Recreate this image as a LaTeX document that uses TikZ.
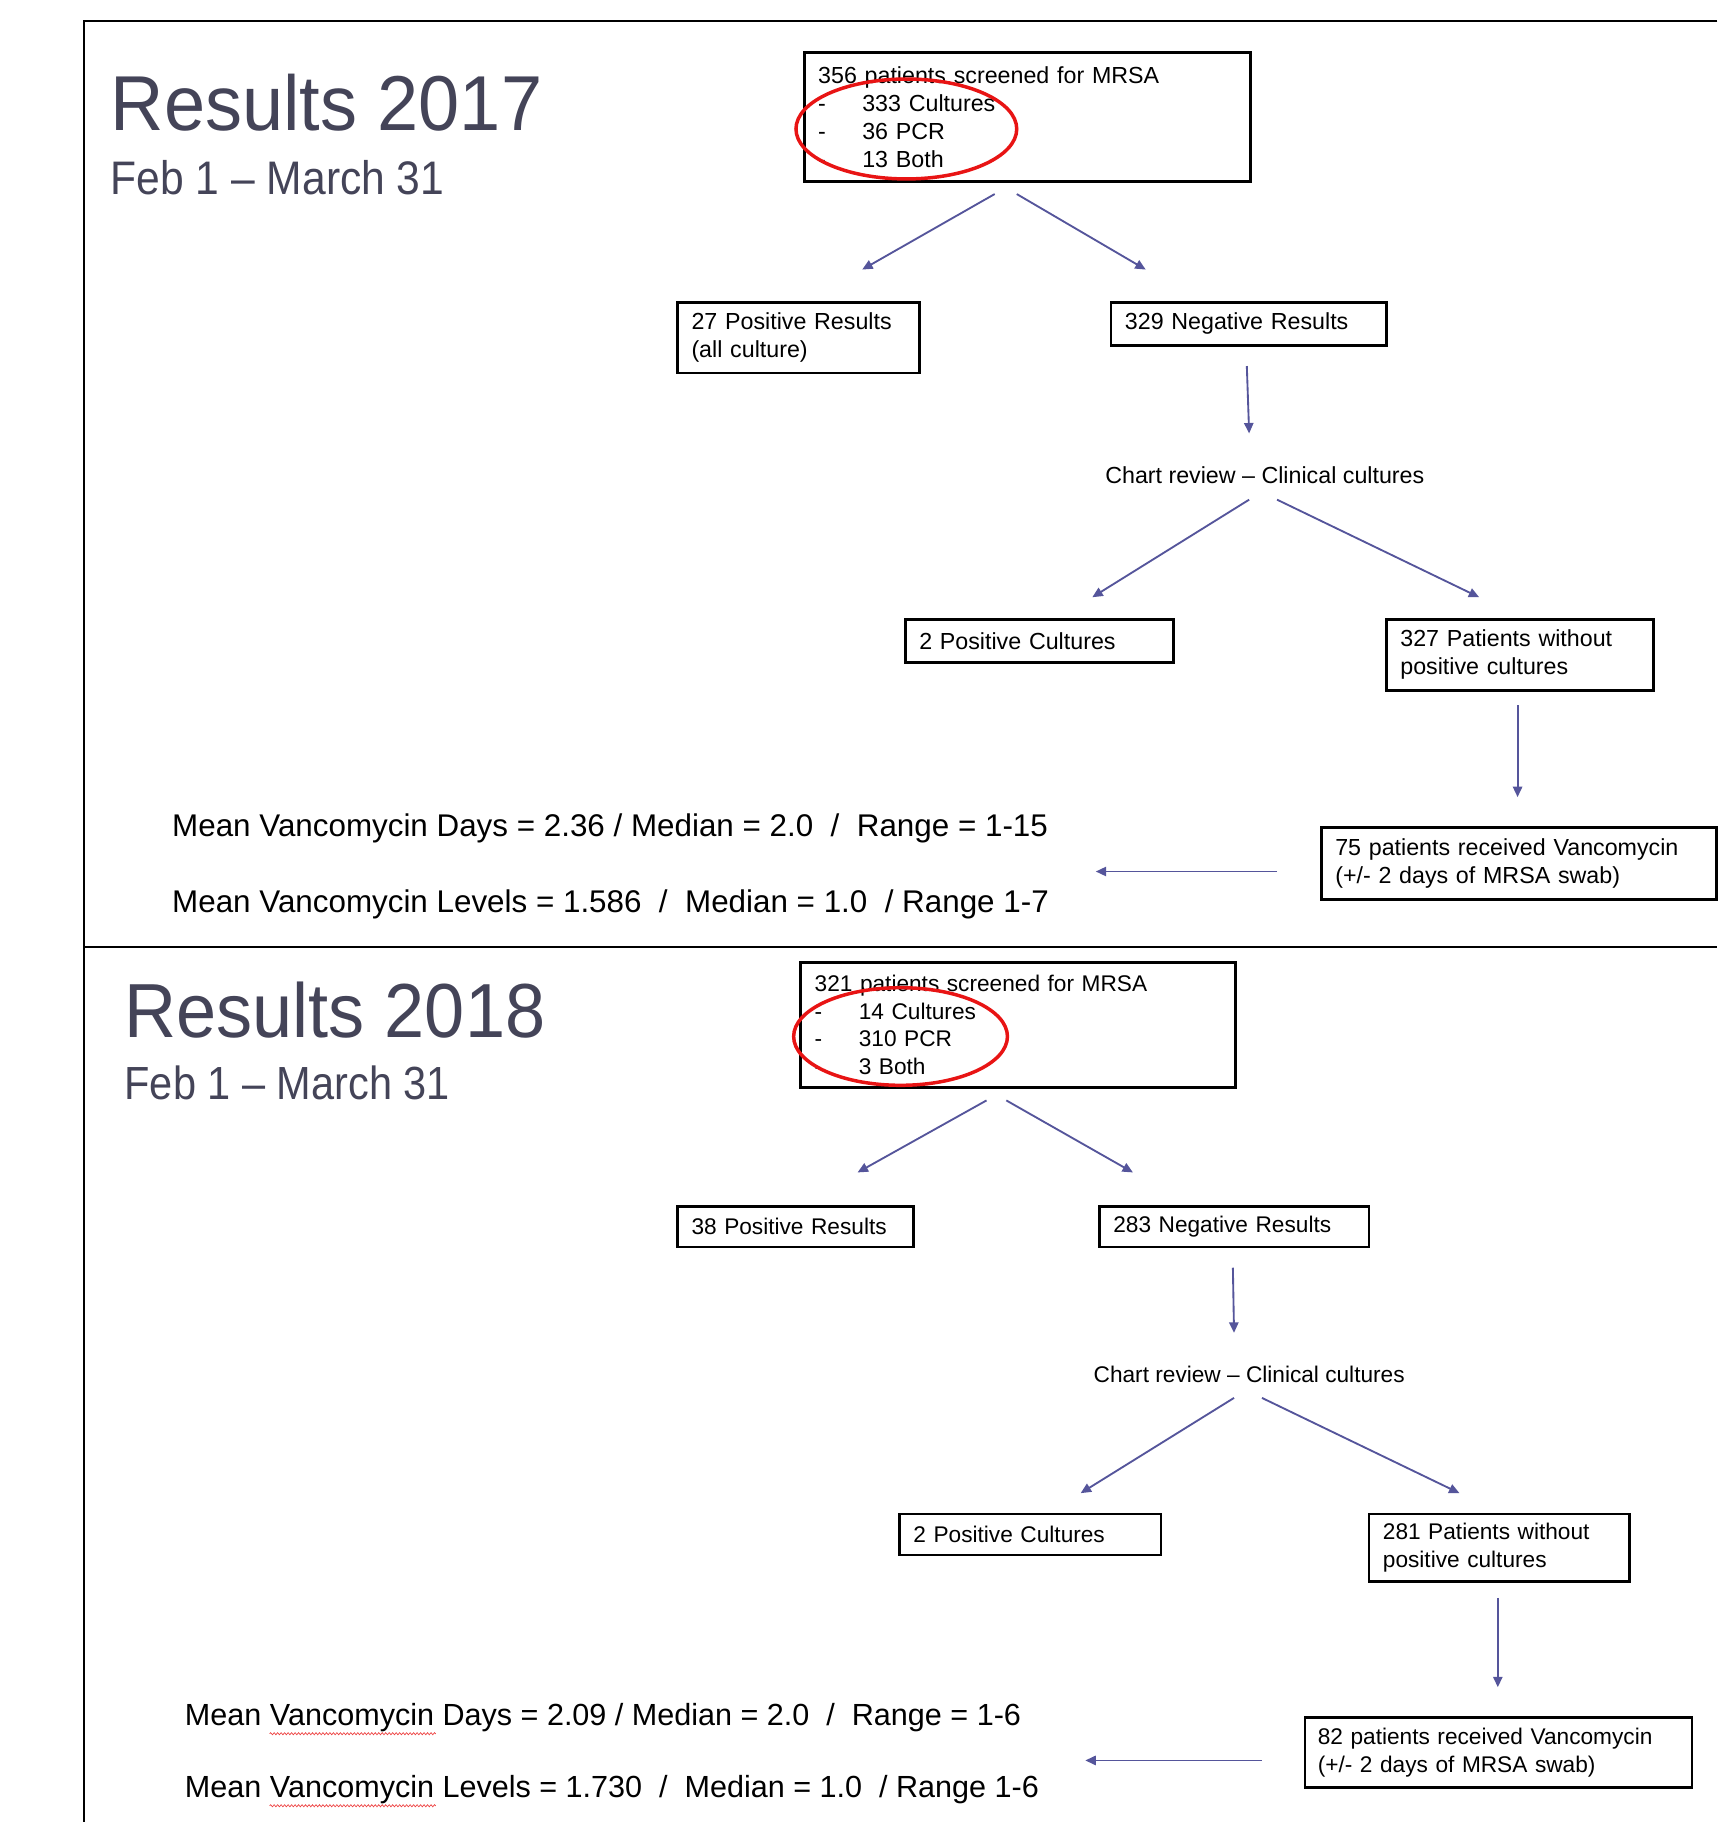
\documentclass[tikz,border=0pt]{standalone}
\usepackage{fontspec}
\setmainfont{Liberation Sans}
\usetikzlibrary{arrows.meta,decorations.pathmorphing}
\definecolor{arrowc}{RGB}{85,85,155}
\definecolor{titlec}{RGB}{68,68,88}
\definecolor{ovalred}{RGB}{232,20,20}
\newcommand{\dashitem}[1]{\makebox[38pt][l]{-}#1}
\tikzset{
  boxnode/.style={draw=black, line width=2.2pt, inner xsep=12pt, inner ysep=0pt, align=left, anchor=north west},
  flowarrow/.style={draw=arrowc, line width=1.6pt, -{Triangle[length=9pt,width=8pt]}},
  frameline/.style={line width=1.8pt, draw=black},
  oval/.style={draw=ovalred, line width=3pt},
  titletext/.style={anchor=base west, inner sep=0pt, text=titlec},
  plaintext/.style={anchor=base west, inner sep=0pt, text=black},
  squiggle/.style={draw=ovalred!80, line width=0.6pt, decorate, decoration={snake, amplitude=0.9pt, segment length=3pt}},
}
\begin{document}
\begin{tikzpicture}[x=1pt,y=-1pt]
\useasboundingbox (0,0) rectangle (1478,1568);
% frame
\draw[frameline] (1478,18) -- (72,18) -- (72,1568);
\draw[frameline] (72,815) -- (1478,815);

% ================= 2017 =================
\node[titletext] (title17) at (95,112) {\fontsize{67}{67}\selectfont\scalebox{0.95}[1]{Results 2017}};
\node[titletext] (sub17) at (95,167) {\fontsize{40.5}{40.5}\selectfont\scalebox{0.905}[1]{Feb 1 – March 31}};

\begin{scope}[every node/.append style={font=\fontsize{20}{24}\selectfont}]
\node[boxnode, minimum width=384pt, minimum height=111pt, text width=360pt] (scr17) at (691,44)
  {356 patients screened for MRSA\\\dashitem{333 Cultures}\\\dashitem{36 PCR}\\\dashitem{13 Both}};
\node[boxnode, minimum width=208pt, minimum height=61pt, text width=184pt] (pos17) at (582,259)
  {27 Positive Results\\(all culture)};
\node[boxnode, minimum width=237pt, minimum height=37pt, text width=213pt] (neg17) at (955,259)
  {329 Negative Results};
\node[plaintext] (chart17) at (951,416) {Chart review – Clinical cultures};
\node[boxnode, minimum width=231pt, minimum height=37pt, text width=207pt] (pc17) at (778,532)
  {2 Positive Cultures};
\node[boxnode, minimum width=230pt, minimum height=61pt, text width=206pt] (wo17) at (1192,532)
  {327 Patients without\\positive cultures};
\node[boxnode, minimum width=340pt, minimum height=62pt, text width=316pt] (van17) at (1136,711)
  {75 patients received Vancomycin\\(+/- 2 days of MRSA swab)};
\end{scope}
\draw[oval] (780,111) ellipse [x radius=95, y radius=43];

\node[plaintext, font=\fontsize{27}{27}\selectfont] (days17) at (148,720)
  {Mean Vancomycin Days = 2.36 / Median = 2.0\ \ /\ \ Range = 1-15};
\node[plaintext, font=\fontsize{27}{27}\selectfont] (lev17) at (148,785)
  {Mean Vancomycin Levels = 1.586\ \ /\ \ Median = 1.0\ \ / Range 1-7};

\coordinate (a1s) at (856,167); \coordinate (a1e) at (742,232);
\coordinate (a2s) at (875,167); \coordinate (a2e) at (986,232);
\coordinate (a3s) at (1073,315); \coordinate (a3e) at (1075,373);
\coordinate (a4s) at (1075,430); \coordinate (a4e) at (940,514);
\coordinate (a5s) at (1099,430); \coordinate (a5e) at (1273,514);
\coordinate (a6s) at (1306,607); \coordinate (a6e) at (1306,686);
\coordinate (a7s) at (1099,750); \coordinate (a7e) at (943,750);
\foreach \k in {1,...,7} {\draw[flowarrow] (a\k s) -- (a\k e);}

% ================= 2018 =================
\node[titletext] (title18) at (107,893) {\fontsize{66}{66}\selectfont\scalebox{0.94}[1]{Results 2018}};
\node[titletext] (sub18) at (107,946.5) {\fontsize{40}{40}\selectfont\scalebox{0.893}[1]{Feb 1 – March 31}};

\begin{scope}[every node/.append style={font=\fontsize{19.5}{23.7}\selectfont}]
\node[boxnode, minimum width=374pt, minimum height=108pt, text width=350pt] (scr18) at (688,827)
  {321 patients screened for MRSA\\\dashitem{14 Cultures}\\\dashitem{310 PCR}\\\dashitem{3 Both}};
\node[boxnode, minimum width=203pt, minimum height=35pt, text width=179pt] (pos18) at (582,1037)
  {38 Positive Results};
\node[boxnode, minimum width=232pt, minimum height=35pt, text width=208pt] (neg18) at (945,1037)
  {283 Negative Results};
\node[plaintext] (chart18) at (941,1190) {Chart review – Clinical cultures};
\node[boxnode, minimum width=225pt, minimum height=35pt, text width=201pt] (pc18) at (773,1302)
  {2 Positive Cultures};
\node[boxnode, minimum width=224pt, minimum height=58pt, text width=200pt, inner xsep=11pt] (wo18) at (1177,1302)
  {281 Patients without\\positive cultures};
\node[boxnode, minimum width=333pt, minimum height=60pt, text width=311pt, inner xsep=11pt] (van18) at (1122,1477)
  {82 patients received Vancomycin\\(+/- 2 days of MRSA swab)};
\end{scope}
\draw[oval] (775,892) ellipse [x radius=92, y radius=42];

\node[plaintext, font=\fontsize{26.3}{26.3}\selectfont] (days18) at (159,1485)
  {Mean Vancomycin Days = 2.09 / Median = 2.0\ \ /\ \ Range = 1-6};
\node[plaintext, font=\fontsize{26.3}{26.3}\selectfont] (lev18) at (159,1547)
  {Mean Vancomycin Levels = 1.730\ \ /\ \ Median = 1.0\ \ / Range 1-6};
\draw[squiggle] (232,1492) -- (375,1492);
\draw[squiggle] (232,1554) -- (375,1554);

\coordinate (b1s) at (849,947); \coordinate (b1e) at (738,1009);
\coordinate (b2s) at (866,947); \coordinate (b2e) at (975,1009);
\coordinate (b3s) at (1061,1091); \coordinate (b3e) at (1062,1147);
\coordinate (b4s) at (1062,1203); \coordinate (b4e) at (930,1285);
\coordinate (b5s) at (1086,1203); \coordinate (b5e) at (1256,1285);
\coordinate (b6s) at (1289,1375); \coordinate (b6e) at (1289,1452);
\coordinate (b7s) at (1086,1515); \coordinate (b7e) at (934,1515);
\foreach \k in {1,...,7} {\draw[flowarrow] (b\k s) -- (b\k e);}
\end{tikzpicture}
\end{document}
